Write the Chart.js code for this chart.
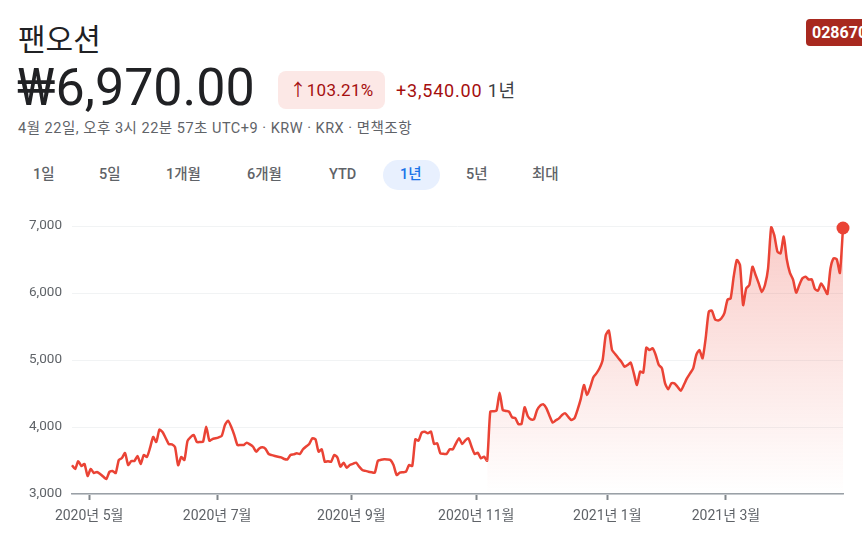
<!DOCTYPE html>
<html lang="ko">
<head>
<meta charset="UTF-8">
<title>팬오션</title>
<script src="https://cdn.jsdelivr.net/npm/chart.js"></script>
<style>
  body { margin: 0; width: 862px; height: 533px; overflow: hidden; position: relative; background: #fff;
         font-family: Roboto, "Noto Sans CJK KR", sans-serif; color: #202124; }
  .abs { position: absolute; white-space: nowrap; line-height: 1; }
  #name { left: 18px; top: 22px; font-size: 30px; font-family: "Noto Sans CJK KR", sans-serif; }
  #ticker { left: 806px; top: 19px; height: 27px; line-height: 27px; padding: 0 6px; border-radius: 4px;
            background: #a8291f; color: #fff; font-weight: 700; font-size: 16px; }
  #price { left: 17px; top: 62px; font-size: 52px; }
  #pct { left: 278px; top: 71px; width: 107px; height: 38px; line-height: 38px; border-radius: 8px;
         background: #fce8e6; color: #a50e0e; font-size: 17px; letter-spacing: 0.3px; text-align: center; }
  #change { left: 396px; top: 82px; font-size: 18px; letter-spacing: 0.8px; color: #a50e0e; }
  #change span { color: #3c4043; }
  #meta { left: 18px; top: 122px; font-size: 14.5px; letter-spacing: 0.5px; color: #5f6368; }
  .period { top: 168px; font-size: 14.5px; font-weight: 500; color: #5f6368; }
  #active { left: 383px; top: 160px; width: 57px; height: 30px; border-radius: 15px; background: #e8f0fe; }
  #chart { position: absolute; left: 0; top: 200px; }
</style>
</head>
<body>
<div class="abs" id="name">팬오션</div>
<div class="abs" id="ticker">028670</div>
<div class="abs" id="price">₩6,970.00</div>
<div class="abs" id="pct">↑103.21%</div>
<div class="abs" id="change">+3,540.00 <span>1년</span></div>
<div class="abs" id="meta">4월 22일, 오후 3시 22분 57초 UTC+9 · KRW · KRX · 면책조항</div>
<div class="abs" id="active"></div>
<div class="abs period" style="left:33px">1일</div>
<div class="abs period" style="left:99px">5일</div>
<div class="abs period" style="left:166px">1개월</div>
<div class="abs period" style="left:247px">6개월</div>
<div class="abs period" style="left:329px">YTD</div>
<div class="abs period" style="left:400px;color:#1a73e8">1년</div>
<div class="abs period" style="left:466px">5년</div>
<div class="abs period" style="left:532px">최대</div>

<canvas id="chart" width="862" height="333"></canvas>

<script>
// closing price per trading day, 2020-04-22 .. 2021-04-22
const prices = [
  3430, 3373, 3490, 3418, 3448, 3270, 3373, 3313, 3330, 3300,
  3260, 3224, 3330, 3343, 3313, 3507, 3537, 3612, 3433, 3492,
  3492, 3567, 3448, 3582, 3552, 3687, 3851, 3776, 3960, 3925,
  3836, 3746, 3740, 3700, 3430, 3552, 3507, 3791, 3850, 3880,
  3776, 3776, 3781, 4005, 3796, 3820, 3831, 3846, 3870, 4030,
  4095, 4005, 3880, 3731, 3731, 3731, 3766, 3740, 3706, 3632,
  3680, 3697, 3672, 3597, 3580, 3567, 3555, 3547, 3522, 3517,
  3582, 3592, 3607, 3597, 3667, 3710, 3746, 3831, 3816, 3632,
  3667, 3480, 3490, 3480, 3582, 3547, 3408, 3467, 3393, 3433,
  3450, 3467, 3408, 3358, 3345, 3333, 3325, 3318, 3497, 3510,
  3517, 3515, 3507, 3433, 3284, 3318, 3325, 3333, 3433, 3418,
  3816, 3796, 3915, 3930, 3905, 3930, 3746, 3756, 3607, 3600,
  3597, 3667, 3667, 3756, 3831, 3746, 3800, 3831, 3706, 3597,
  3617, 3532, 3557, 3497, 4229, 4235, 4244, 4512, 4254, 4240,
  4229, 4144, 4134, 4045, 4045, 4294, 4164, 4114, 4114, 4254,
  4320, 4338, 4279, 4164, 4065, 4100, 4129, 4179, 4204, 4150,
  4104, 4134, 4264, 4420, 4627, 4478, 4592, 4740, 4801, 4876,
  5000, 5373, 5438, 5149, 5090, 5030, 4975, 4900, 4925, 4960,
  4801, 4627, 4826, 4811, 5184, 5149, 5174, 5075, 4925, 4876,
  4652, 4563, 4652, 4652, 4600, 4542, 4627, 4726, 4800, 4876,
  5075, 5149, 5025, 5323, 5721, 5736, 5607, 5590, 5620, 5700,
  5900, 5920, 6250, 6493, 6418, 5821, 6070, 6119, 6393, 6269,
  6144, 6015, 6119, 6369, 6980, 6860, 6617, 6592, 6841, 6500,
  6300, 6200, 6005, 6119, 6219, 6244, 6200, 6204, 6060, 6035,
  6144, 6070, 5985, 6369, 6518, 6503, 6300, 6970
];

// month boundaries, in trading days from the first point
const monthTickDays = [5.5, 46.5, 89.5, 129.5, 171.5, 209.5];
const monthTickLabels = ['2020년 5월', '2020년 7월', '2020년 9월', '2020년 11월', '2021년 1월', '2021년 3월'];
const yMin = 3000, yMax = 7000, yStep = 1000;
const fillFromDay = 133; // shaded area starts at the November jump

const red = '#ea4335';
let areaGradient = null;

function areaColor(ctx) {
    if (ctx.p0DataIndex < fillFromDay) return 'rgba(0,0,0,0)';
    const chart = ctx.chart;
    const area = chart.chartArea;
    if (!area) return 'rgba(0,0,0,0)';
    if (!areaGradient) {
        areaGradient = chart.ctx.createLinearGradient(0, area.top, 0, area.bottom);
        areaGradient.addColorStop(0, 'rgba(234,67,53,0.27)');
        areaGradient.addColorStop(1, 'rgba(234,67,53,0)');
    }
    return areaGradient;
}

const data = {
    datasets: [{
        data: prices.map((p, i) => ({ x: i, y: p })),
        borderColor: red,
        borderWidth: 2.5,
        backgroundColor: 'rgba(0,0,0,0)',
        fill: 'start',
        tension: 0.2,
        clip: 10,
        pointRadius: ctx => ctx.dataIndex === prices.length - 1 ? 6.5 : 0,
        pointHoverRadius: 0,
        pointBackgroundColor: red,
        pointBorderWidth: 0,
        segment: { backgroundColor: areaColor }
    }]
};

const config = {
    type: 'line',
    data: data,
    options: {
        responsive: false,
        animation: false,
        layout: { padding: { top: 26, right: 19, left: 0, bottom: 0 } },
        plugins: { legend: { display: false }, tooltip: { enabled: false } },
        scales: {
            x: {
                type: 'linear',
                min: 0,
                max: prices.length - 1,
                afterBuildTicks: scale => { scale.ticks = monthTickDays.map(v => ({ value: v })); },
                afterFit: scale => { scale.height = 39; },
                grid: { drawOnChartArea: false, tickLength: 6, tickColor: '#80868b', tickWidth: 2 },
                border: { color: '#9aa0a6', width: 1.5 },
                ticks: {
                    autoSkip: false,
                    maxRotation: 0,
                    padding: 8,
                    color: '#5f6368',
                    font: { family: 'Roboto, "Noto Sans CJK KR"', size: 14 },
                    callback: (v, i) => monthTickLabels[i]
                }
            },
            y: {
                min: yMin,
                max: yMax,
                afterFit: scale => { scale.width = 72; },
                grid: { color: '#f1f3f4', drawTicks: false },
                border: { display: false },
                ticks: {
                    stepSize: yStep,
                    padding: 10,
                    color: '#5f6368',
                    font: { family: 'Roboto', size: 13.5 },
                    callback: v => v.toLocaleString('en-US')
                }
            }
        }
    }
};

window.myChart = new Chart(document.getElementById('chart').getContext('2d'), config);
</script>
</body>
</html>
